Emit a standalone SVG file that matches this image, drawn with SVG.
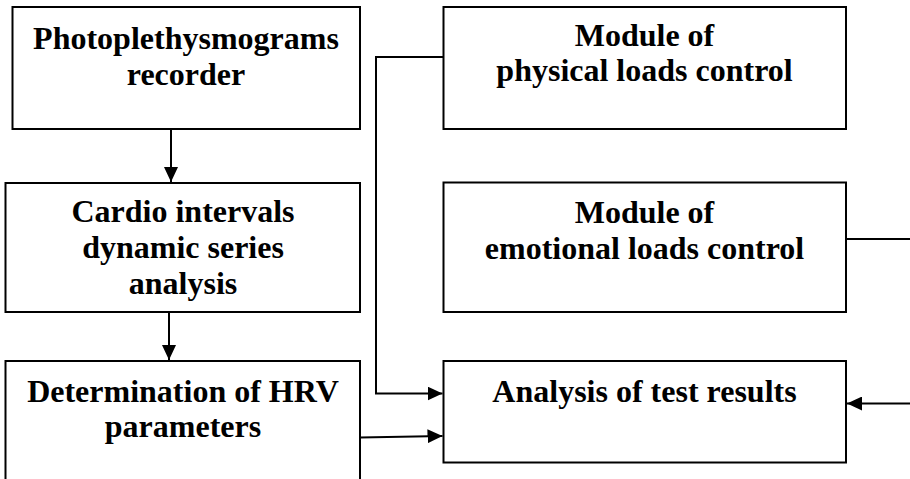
<svg xmlns="http://www.w3.org/2000/svg" width="910" height="479" viewBox="0 0 910 479">
<style>
.box{fill:#fff;stroke:#000;stroke-width:2}
.t{font-family:'Liberation Serif',Tinos,'Nimbus Roman','Times New Roman',Times,'DejaVu Serif',serif;font-weight:700;font-size:32px;text-anchor:middle;fill:#000}
.c{fill:none;stroke:#000;stroke-width:2}
</style>
<defs>
<marker id="ah" markerUnits="userSpaceOnUse" markerWidth="16" markerHeight="14" refX="15" refY="7" orient="auto">
<path d="M0,0 L15,7 L0,14 Z" fill="#000"/>
</marker>
</defs>
<rect width="910" height="479" fill="#fff"/>
<g id="n1">
<rect class="box" x="12.5" y="7" width="347.5" height="122"/>
<text class="t" x="186" y="49">Photoplethysmograms</text>
<text class="t" x="186" y="85">recorder</text>
</g>
<g id="n2">
<rect class="box" x="5.5" y="183" width="354.5" height="129"/>
<text class="t" x="183" y="222">Cardio intervals</text>
<text class="t" x="183" y="258">dynamic series</text>
<text class="t" x="183" y="294">analysis</text>
</g>
<g id="n3">
<rect class="box" x="5.5" y="361" width="354.5" height="140"/>
<text class="t" x="183" y="402">Determination of HRV</text>
<text class="t" x="183" y="437">parameters</text>
</g>
<g id="n4">
<rect class="box" x="443.5" y="7" width="402.5" height="122"/>
<text class="t" x="644.5" y="46">Module of</text>
<text class="t" x="644.5" y="81">physical loads control</text>
</g>
<g id="n5">
<rect class="box" x="443.5" y="182.5" width="402.5" height="129.5"/>
<text class="t" x="644.5" y="223">Module of</text>
<text class="t" x="644.5" y="259">emotional loads control</text>
</g>
<g id="n6">
<rect class="box" x="443.5" y="361" width="402.5" height="101.5"/>
<text class="t" x="644.5" y="402">Analysis of test results</text>
</g>
<g id="connectors">
<line class="c" x1="171" y1="129" x2="171" y2="182" marker-end="url(#ah)"/>
<line class="c" x1="169" y1="312" x2="169" y2="360" marker-end="url(#ah)"/>
<polyline class="c" points="443,57 376,57 376,393.5 442.5,393.5" marker-end="url(#ah)"/>
<line class="c" x1="360" y1="437.5" x2="442.5" y2="436" marker-end="url(#ah)"/>
<line class="c" x1="846" y1="239" x2="910" y2="239"/>
<line class="c" x1="910" y1="403.5" x2="847" y2="403.5" marker-end="url(#ah)"/>
</g>
</svg>
